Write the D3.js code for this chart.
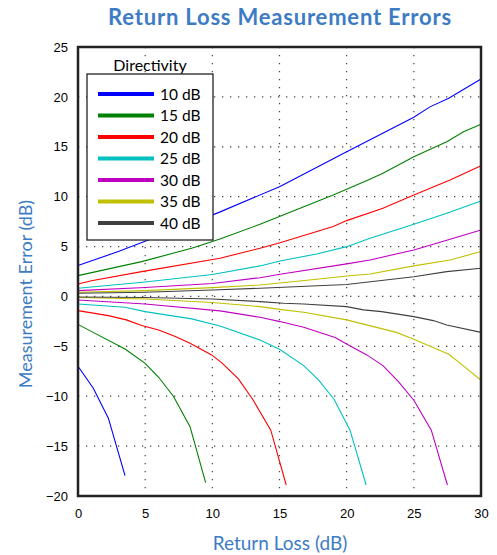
<!DOCTYPE html>
<html><head><meta charset="utf-8">
<script src="https://cdn.jsdelivr.net/npm/d3@7"></script>
<style>body{margin:0;background:#fff}</style>
</head><body><svg id="c" width="497" height="555"></svg>
<script>
const directivity = ["10 dB","15 dB","20 dB","25 dB","30 dB","35 dB","40 dB"];
const colors = ["#0000ff","#008000","#ff0000","#00c0c0","#c000c0","#c0c000","#404040"];
const xTicks = [0,5,10,15,20,25,30];
const yTicks = [25,20,15,10,5,0,-5,-10,-15,-20];

// upper error curves: return loss (dB) and error (dB)
const upper10X = [0,3,5.24,10.45,15,20,25,26.2,27.6,30];
const upper10  = [3.1,4.5,5.66,8.4,11.0,14.5,17.96,19.0,19.86,21.8];
const upper15X = [0,4.74,8.46,10.57,13.55,19,21.6,22.7,25,27.45,28.7,30];
const upper15  = [2.09,3.49,4.83,5.76,7.23,10.17,11.67,12.34,14.0,15.5,16.5,17.25];
const upper20X = [0,1,4.74,10.57,13.55,15.04,19,20,22.7,25,27.7,30];
const upper20  = [1.25,1.58,2.49,3.83,4.83,5.39,7.0,7.6,8.84,10.17,11.67,13.1];
const upper25X = [0,5,10,13.55,15.04,17.77,20,21.74,25,27.45,30];
const upper25  = [0.82,1.45,2.2,3.06,3.56,4.26,4.99,5.83,7.23,8.34,9.57];
const upper30X = [0,5,10,13.55,15.04,20,21.74,25,27.7,30];
const upper30  = [0.58,0.9,1.3,1.88,2.22,3.26,3.66,4.66,5.73,6.66];
const upper35X = [0,5,10,13.55,17.77,20,21.74,25,27.7,30];
const upper35  = [0.42,0.58,0.88,1.15,1.72,2.05,2.25,3.06,3.66,4.5];
const upper40X = [0,5,10,13.55,20,25,27.45,30];
const upper40  = [0.32,0.42,0.65,0.82,1.2,1.98,2.49,2.82];

// lower error curves
const lower10X = [0,1.14,2.26,3.5];
const lower10  = [-7.0,-9.2,-12.2,-17.95];
const lower15X = [0,1.27,3.5,5,6,7.1,8.34,9.5];
const lower15  = [-2.8,-3.7,-5.26,-6.7,-8.1,-10.0,-13.05,-18.65];
const lower20X = [0,2.26,3.6,4.74,6,7.2,8.34,9.95,10.75,11.94,13.0,14.35,15.5];
const lower20  = [-1.42,-1.92,-2.35,-2.92,-3.36,-4.0,-4.7,-5.86,-6.7,-8.27,-10.3,-13.4,-18.9];
const lower25X = [0,3.5,5,8.46,10.57,13.55,15,16.8,17.9,19.06,20.25,21.45];
const lower25  = [-0.75,-1.09,-1.52,-2.25,-2.96,-4.36,-5.3,-6.93,-8.37,-10.3,-13.4,-18.9];
const lower30X = [0,5,10.57,13.55,15.04,16.8,19.14,20.13,21.5,22.7,23.85,25,26.3,27.5];
const lower30  = [-0.35,-0.75,-1.45,-2.09,-2.52,-3.09,-4.12,-4.86,-5.86,-6.93,-8.53,-10.4,-13.4,-18.9];
const lower35X = [0,5,10,13.55,15.3,16.8,20,23.7,25,27.6,28.6,30];
const lower35  = [-0.1,-0.25,-0.6,-1.02,-1.35,-1.58,-2.35,-3.6,-4.29,-5.8,-6.86,-8.4];
const lower40X = [0,5,10,13.55,15.3,16.8,20,21.25,22.6,25,26.45,27.45,30];
const lower40  = [-0.05,-0.1,-0.25,-0.52,-0.68,-0.75,-1.02,-1.35,-1.52,-2.02,-2.42,-2.86,-3.6];

const upperXs = [upper10X,upper15X,upper20X,upper25X,upper30X,upper35X,upper40X];
const uppers = [upper10,upper15,upper20,upper25,upper30,upper35,upper40];
const lowerXs = [lower10X,lower15X,lower20X,lower25X,lower30X,lower35X,lower40X];
const lowers = [lower10,lower15,lower20,lower25,lower30,lower35,lower40];

const svg = d3.select("#c");
const L=78,R=481,T=47,B=496;
const x = d3.scaleLinear().domain([0,30]).range([L,R]);
const y = d3.scaleLinear().domain([-20,25]).range([B,T]);
const font = "Lato, 'Open Sans', sans-serif";
const blue = "#3d7cc4";

svg.append("text").attr("x",280).attr("y",25).attr("text-anchor","middle")
  .attr("font-family",font).attr("font-weight","bold").attr("font-size",22)
  .attr("letter-spacing",0.8).attr("fill",blue).text("Return Loss Measurement Errors");

// grid
const g = svg.append("g");
g.selectAll("line.v").data(xTicks.slice(1,-1)).join("line")
  .attr("x1",d=>x(d)).attr("x2",d=>x(d)).attr("y1",T).attr("y2",B)
  .attr("stroke","#444").attr("stroke-width",1.2).attr("stroke-dasharray","1.3,6.7");
g.selectAll("line.h").data(yTicks.slice(1,-1)).join("line")
  .attr("y1",d=>y(d)).attr("y2",d=>y(d)).attr("x1",L).attr("x2",R)
  .attr("stroke","#444").attr("stroke-width",1.2).attr("stroke-dasharray","1.3,6.7");

const line = d3.line().x(d=>x(d[0])).y(d=>y(d[1]));
const curves = svg.append("g");
uppers.forEach((u,i)=>{
  curves.append("path").attr("d",line(upperXs[i].map((v,j)=>[v,u[j]])))
    .attr("fill","none").attr("stroke",colors[i]).attr("stroke-width",1.1);
});
lowers.forEach((u,i)=>{
  curves.append("path").attr("d",line(lowerXs[i].map((v,j)=>[v,u[j]])))
    .attr("fill","none").attr("stroke",colors[i]).attr("stroke-width",1.1);
});

// frame
svg.append("rect").attr("x",L).attr("y",T).attr("width",R-L).attr("height",B-T)
  .attr("fill","none").attr("stroke","#222").attr("stroke-width",2.5);

// axes labels
const xa = svg.append("g").attr("transform",`translate(0,${B})`)
  .call(d3.axisBottom(x).tickValues(xTicks).tickSize(0).tickPadding(13));
xa.select(".domain").remove();
xa.selectAll("text").attr("font-family","'Liberation Sans', Arial, sans-serif").attr("font-size",13).attr("fill","#000");
const ya = svg.append("g").attr("transform",`translate(${L},0)`)
  .call(d3.axisLeft(y).tickValues(yTicks).tickSize(0).tickPadding(10));
ya.select(".domain").remove();
ya.selectAll("text").attr("font-family","'Liberation Sans', Arial, sans-serif").attr("font-size",13).attr("fill","#000");

svg.append("text").attr("x",280).attr("y",550).attr("text-anchor","middle")
  .attr("font-family",font).attr("font-size",19).attr("fill",blue).text("Return Loss (dB)");
svg.append("text").attr("transform","translate(32,294) rotate(-90)").attr("text-anchor","middle")
  .attr("font-family",font).attr("font-size",18).attr("fill",blue).text("Measurement Error (dB)");

// legend
svg.append("text").attr("x",150).attr("y",71).attr("text-anchor","middle")
  .attr("font-family",font).attr("font-size",16).attr("fill","#000").text("Directivity");
svg.append("rect").attr("x",87).attr("y",74).attr("width",126).attr("height",166)
  .attr("fill","#fff").attr("stroke","#222").attr("stroke-width",1.3);
const lg = svg.append("g").selectAll("g").data(directivity).join("g")
  .attr("transform",(d,i)=>`translate(0,${94+i*21.5})`);
lg.append("line").attr("x1",98).attr("x2",154).attr("stroke",(d,i)=>colors[i]).attr("stroke-width",4);
lg.append("text").attr("x",160).attr("y",5.5).attr("font-family",font).attr("font-size",15.5)
  .attr("fill","#000").text(d=>d);
</script></body></html>
